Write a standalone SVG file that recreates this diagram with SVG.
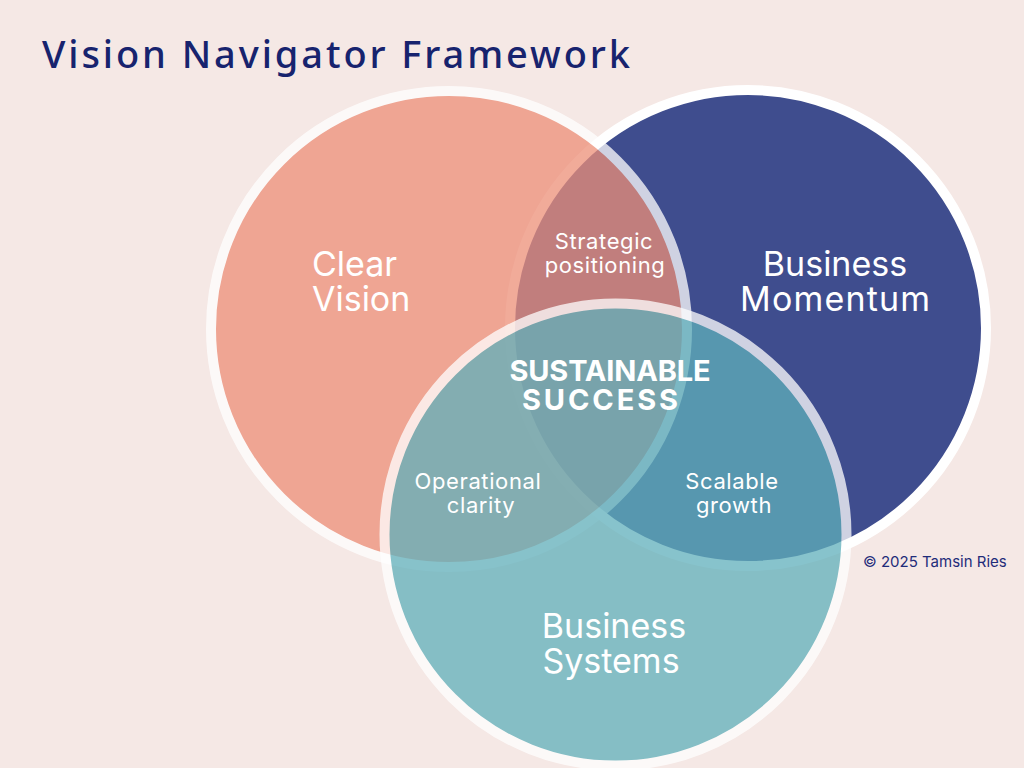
<svg xmlns="http://www.w3.org/2000/svg" width="1024" height="768" viewBox="0 0 1024 768">
<style>
.ring{stroke:#ffffff;stroke-width:10}
.big{font-family:"Inter","DejaVu Sans",sans-serif;font-size:34px;fill:#ffffff}
.small{font-family:"Inter","DejaVu Sans",sans-serif;font-size:22px;letter-spacing:0.6px;fill:#ffffff;text-anchor:middle}
.core{font-family:"Inter","DejaVu Sans",sans-serif;font-size:29px;font-weight:700;fill:#ffffff;text-anchor:middle}
.title{font-family:"Noto Sans","DejaVu Sans",sans-serif;font-size:38px;font-weight:500;fill:#17236E}
.credit{font-family:"Inter","DejaVu Sans",sans-serif;font-size:15px;fill:#1F2C7A}
</style>
<rect width="1024" height="768" fill="#F5E8E5"/>
<text class="title" x="42" y="68" textLength="588" lengthAdjust="spacing">Vision Navigator Framework</text>
<g id="node-business-momentum">
  <circle class="ring" cx="748" cy="328" r="238" fill="#3F4D8E"/>
  <text class="big" x="835" y="276" text-anchor="middle">Business</text>
  <text class="big" x="835" y="311" text-anchor="middle" textLength="190" lengthAdjust="spacing">Momentum</text>
</g>
<g id="node-clear-vision">
  <g opacity="0.75">
    <circle class="ring" cx="449" cy="329" r="238" fill="#ED8F78"/>
  </g>
  <text class="big" x="312" y="276">Clear</text>
  <text class="big" x="312" y="311">Vision</text>
</g>
<g id="node-business-systems">
  <g opacity="0.75">
    <circle class="ring" cx="615.5" cy="534.5" r="231" fill="#60B0BB"/>
  </g>
  <text class="big" x="614" y="638" text-anchor="middle">Business</text>
  <text class="big" x="611" y="673" text-anchor="middle">Systems</text>
</g>
<g id="node-strategic-positioning">
  <text class="small" x="604" y="249">Strategic</text>
  <text class="small" x="605" y="273">positioning</text>
</g>
<g id="node-operational-clarity">
  <text class="small" x="478" y="489">Operational</text>
  <text class="small" x="481" y="513">clarity</text>
</g>
<g id="node-scalable-growth">
  <text class="small" x="732" y="489">Scalable</text>
  <text class="small" x="734" y="513">growth</text>
</g>
<g id="node-sustainable-success">
  <text class="core" x="610" y="381" textLength="201" lengthAdjust="spacing">SUSTAINABLE</text>
  <text class="core" x="600" y="410" textLength="156" lengthAdjust="spacing">SUCCESS</text>
</g>
<g id="connectors"/>
<text class="credit" x="863" y="567">© 2025 Tamsin Ries</text>
</svg>
